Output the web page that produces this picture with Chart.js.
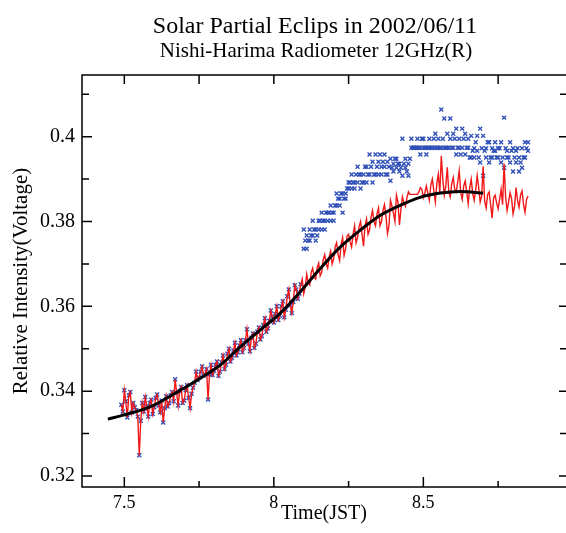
<!DOCTYPE html>
<html>
<head>
<meta charset="utf-8">
<script src="https://cdn.jsdelivr.net/npm/chart.js@4.4.1/dist/chart.umd.min.js"></script>
<style>
    body { margin: 0; background: #fff; }
    canvas { display: block; }
</style>
</head>
<body>
<canvas id="graficoEclipse" width="566" height="533"></canvas>
<script>
    const titulo = 'Solar Partial Eclips in 2002/06/11';
    const subtitulo = 'Nishi-Harima Radiometer 12GHz(R)';

    // red trace, samples on the 0.01 h grid
    const redTimes = [
        7.49, 7.50, 7.51, 7.52, 7.53, 7.54, 7.55, 7.56, 7.57, 7.58,
        7.59, 7.60, 7.61, 7.62, 7.63, 7.64, 7.65, 7.66, 7.67, 7.68,
        7.69, 7.70, 7.71, 7.72, 7.73, 7.74, 7.75, 7.76, 7.77, 7.78,
        7.79, 7.80, 7.81, 7.82, 7.83, 7.84, 7.85, 7.86, 7.87, 7.88,
        7.89, 7.90, 7.91, 7.92, 7.93, 7.94, 7.95, 7.96, 7.97, 7.98,
        7.99, 8.00, 8.01, 8.02, 8.03, 8.04, 8.05, 8.06, 8.07, 8.08,
        8.09, 8.10, 8.11, 8.12, 8.13, 8.14, 8.15, 8.16, 8.17, 8.18,
        8.19, 8.20, 8.21, 8.22, 8.23, 8.24, 8.25, 8.26, 8.27, 8.28,
        8.29, 8.30, 8.31, 8.32, 8.33, 8.34, 8.35, 8.36, 8.37, 8.38,
        8.39, 8.40, 8.41, 8.42, 8.43, 8.44, 8.45, 8.46, 8.47, 8.48,
        8.49, 8.50, 8.51, 8.52, 8.53, 8.54, 8.55, 8.56, 8.57, 8.58,
        8.59, 8.60, 8.61, 8.62, 8.63, 8.64, 8.65, 8.66, 8.67, 8.68,
        8.69, 8.70, 8.71, 8.72, 8.73, 8.74, 8.75, 8.76, 8.77, 8.78,
        8.79, 8.80, 8.81, 8.82, 8.83, 8.84, 8.85
    ];
    const redVals = [
        0.3368, 0.3402, 0.3338, 0.3398, 0.3372, 0.3355, 0.3249, 0.3372, 0.3386, 0.3340,
        0.3380, 0.3362, 0.3392, 0.3350, 0.3326, 0.3388, 0.3372, 0.3398, 0.3428, 0.3366,
        0.3410, 0.3378, 0.3414, 0.3360, 0.3408, 0.3446, 0.3432, 0.3458, 0.3440, 0.3380,
        0.3462, 0.3448, 0.3470, 0.3446, 0.3484, 0.3462, 0.3500, 0.3478, 0.3514, 0.3492,
        0.3520, 0.3502, 0.3546, 0.3494, 0.3536, 0.3512, 0.3550, 0.3530, 0.3572, 0.3548,
        0.3590, 0.3562, 0.3600, 0.3578, 0.3612, 0.3592, 0.3640, 0.3584, 0.3650, 0.3618,
        0.3652, 0.3630, 0.3676, 0.3650, 0.3690, 0.3664, 0.3702, 0.3680, 0.3722, 0.3690,
        0.3730, 0.3712, 0.3750, 0.3708, 0.3762, 0.3736, 0.3770, 0.3740, 0.3790, 0.3762,
        0.3800, 0.3742, 0.3806, 0.3780, 0.3826, 0.3790, 0.3832, 0.3800, 0.3840, 0.3772,
        0.3850, 0.3820, 0.3862, 0.3792, 0.3858, 0.3836, 0.3870, 0.3864, 0.3864, 0.3864,
        0.3880, 0.3856, 0.3884, 0.3850, 0.3900, 0.3846, 0.3912, 0.3955, 0.3862, 0.3928,
        0.3858, 0.3904, 0.3870, 0.3920, 0.3852, 0.3896, 0.3842, 0.3900, 0.3850, 0.3908,
        0.3846, 0.3930, 0.3832, 0.3870, 0.3808, 0.3862, 0.3830, 0.3876, 0.3937, 0.3826,
        0.3868, 0.3818, 0.3880, 0.3834, 0.3872, 0.3822, 0.3860
    ];
    // red trace, samples half way between
    const redTimesB = [
        7.495, 7.505, 7.515, 7.525, 7.535, 7.545, 7.555, 7.565, 7.575, 7.585,
        7.595, 7.605, 7.615, 7.625, 7.635, 7.645, 7.655, 7.665, 7.675, 7.685,
        7.695, 7.705, 7.715, 7.725, 7.735, 7.745, 7.755, 7.765, 7.775, 7.785,
        7.795, 7.805, 7.815, 7.825, 7.835, 7.845, 7.855, 7.865, 7.875, 7.885,
        7.895, 7.905, 7.915, 7.925, 7.935, 7.945, 7.955, 7.965, 7.975, 7.985,
        7.995, 8.005, 8.015, 8.025, 8.035, 8.045, 8.055, 8.065, 8.075, 8.085,
        8.095, 8.105, 8.115, 8.125, 8.135, 8.145, 8.155, 8.165, 8.175, 8.185,
        8.195, 8.205, 8.215, 8.225, 8.235, 8.245, 8.255, 8.265, 8.275, 8.285,
        8.295, 8.305, 8.315, 8.325, 8.335, 8.345, 8.355, 8.365, 8.375, 8.385,
        8.395, 8.405, 8.415, 8.425, 8.435, 8.445, 8.455, 8.465, 8.475, 8.485,
        8.495, 8.505, 8.515, 8.525, 8.535, 8.545, 8.555, 8.565, 8.575, 8.585,
        8.595, 8.605, 8.615, 8.625, 8.635, 8.645, 8.655, 8.665, 8.675, 8.685,
        8.695, 8.705, 8.715, 8.725, 8.735, 8.745, 8.755, 8.765, 8.775, 8.785,
        8.795, 8.805, 8.815, 8.825, 8.835, 8.845
    ];
    const redValsB = [
        0.3352, 0.3376, 0.3390, 0.3350, 0.3362, 0.3340, 0.3330, 0.3352, 0.3364, 0.3372,
        0.3346, 0.3384, 0.3366, 0.3378, 0.3360, 0.3364, 0.3390, 0.3376, 0.3396, 0.3400,
        0.3372, 0.3402, 0.3384, 0.3394, 0.3420, 0.3426, 0.3446, 0.3436, 0.3452, 0.3440,
        0.3438, 0.3462, 0.3436, 0.3468, 0.3452, 0.3488, 0.3470, 0.3496, 0.3484, 0.3508,
        0.3492, 0.3520, 0.3512, 0.3526, 0.3502, 0.3540, 0.3522, 0.3556, 0.3540, 0.3566,
        0.3576, 0.3582, 0.3568, 0.3600, 0.3574, 0.3624, 0.3602, 0.3610, 0.3640, 0.3630,
        0.3664, 0.3646, 0.3656, 0.3680, 0.3668, 0.3692, 0.3672, 0.3710, 0.3700, 0.3716,
        0.3700, 0.3740, 0.3722, 0.3746, 0.3720, 0.3766, 0.3752, 0.3770, 0.3750, 0.3788,
        0.3770, 0.3790, 0.3770, 0.3810, 0.3800, 0.3818, 0.3790, 0.3826, 0.3812, 0.3790,
        0.3836, 0.3800, 0.3846, 0.3828, 0.3844, 0.3856, 0.3864, 0.3864, 0.3864, 0.3870,
        0.3876, 0.3868, 0.3866, 0.3886, 0.3872, 0.3890, 0.3868, 0.3900, 0.3884, 0.3870,
        0.3890, 0.3876, 0.3894, 0.3868, 0.3884, 0.3870, 0.3880, 0.3866, 0.3874, 0.3880,
        0.3860, 0.3848, 0.3864, 0.3840, 0.3856, 0.3844, 0.3852, 0.3840, 0.3858, 0.3846,
        0.3854, 0.3836, 0.3850, 0.3862, 0.3840, 0.3852
    ];
    // blue crosses coincide with the red trace up to 8.09 h
    const blueSameCount = 61;
    const blueSameCountB = 60;

    // blue crosses after 8.10 h (quantised readings)
    const blueTimes = [
        8.10, 8.11, 8.12, 8.13, 8.14, 8.15, 8.16, 8.17, 8.18, 8.19,
        8.20, 8.21, 8.22, 8.23, 8.24, 8.25, 8.26, 8.27, 8.28, 8.29,
        8.30, 8.31, 8.32, 8.33, 8.34, 8.35, 8.36, 8.37, 8.38, 8.39,
        8.40, 8.41, 8.42, 8.43, 8.44, 8.45, 8.46, 8.47, 8.48, 8.49,
        8.50, 8.51, 8.52, 8.53, 8.54, 8.55, 8.56, 8.57, 8.58, 8.59,
        8.60, 8.61, 8.62, 8.63, 8.64, 8.65, 8.66, 8.67, 8.68, 8.69,
        8.70, 8.71, 8.72, 8.73, 8.74, 8.75, 8.76, 8.77, 8.78, 8.79,
        8.80, 8.81, 8.82, 8.83, 8.84, 8.85
    ];
    const blueUpper = [
        0.3781, 0.3767, 0.3781, 0.3802, 0.3781, 0.3802, 0.3821, 0.3802, 0.3821, 0.3838,
        0.3821, 0.3866, 0.3854, 0.3866, 0.3866, 0.3892, 0.3911, 0.3892, 0.3929, 0.3911,
        0.3911, 0.3929, 0.3958, 0.3941, 0.3958, 0.3941, 0.3929, 0.3958, 0.3941, 0.3948,
        0.3936, 0.3948, 0.3936, 0.3995, 0.3948, 0.3936, 0.3995, 0.3974, 0.3995, 0.3974,
        0.3995, 0.3974, 0.3995, 0.3974, 0.4007, 0.3995, 0.4064, 0.4043, 0.4007, 0.4043,
        0.4007, 0.4019, 0.3995, 0.4019, 0.4007, 0.3995, 0.4002, 0.3973, 0.4002, 0.4019,
        0.4002, 0.3973, 0.3987, 0.3973, 0.3987, 0.3973, 0.3987, 0.4045, 0.3967, 0.3987,
        0.3973, 0.3967, 0.3951, 0.3973, 0.3987, 0.3987
    ];
    const blueLower = [
        0.3736, 0.3736, 0.3755, 0.3767, 0.3755, 0.3781, 0.3781, 0.3781, 0.3802, 0.3802,
        0.3802, 0.3838, 0.3838, 0.3821, 0.3854, 0.3878, 0.3878, 0.3878, 0.3892, 0.3878,
        0.3892, 0.3892, 0.3911, 0.3892, 0.3911, 0.3911, 0.3911, 0.3929, 0.3911, 0.3896,
        0.3918, 0.3927, 0.3918, 0.3908, 0.3927, 0.3908, 0.3974, 0.3974, 0.3974, 0.3958,
        0.3974, 0.3958, 0.3974, 0.3974, 0.3974, 0.3974, 0.3974, 0.3974, 0.3974, 0.3995,
        0.3974, 0.3958, 0.3974, 0.3974, 0.3958, 0.3974, 0.3951, 0.3951, 0.3967, 0.3939,
        0.3908, 0.3951, 0.3939, 0.3951, 0.3967, 0.3951, 0.3939, 0.3927, 0.3951, 0.3939,
        0.3918, 0.3939, 0.3918, 0.3927, 0.3951, 0.3967
    ];
    const blueTimesB = [
        8.105, 8.115, 8.125, 8.135, 8.145, 8.155, 8.165, 8.175, 8.185, 8.195,
        8.205, 8.215, 8.225, 8.235, 8.245, 8.255, 8.265, 8.275, 8.285, 8.295,
        8.305, 8.315, 8.325, 8.335, 8.345, 8.355, 8.365, 8.375, 8.385, 8.395,
        8.405, 8.415, 8.425, 8.435, 8.445, 8.455, 8.465, 8.475, 8.485, 8.495,
        8.505, 8.515, 8.525, 8.535, 8.545, 8.555, 8.565, 8.575, 8.585, 8.595,
        8.605, 8.615, 8.625, 8.635, 8.645, 8.655, 8.665, 8.675, 8.685, 8.695,
        8.705, 8.715, 8.725, 8.735, 8.745, 8.755, 8.765, 8.775, 8.785, 8.795,
        8.805, 8.815, 8.825, 8.835, 8.845
    ];
    const blueMid = [
        0.3755, 0.3755, 0.3767, 0.3781, 0.3767, 0.3802, 0.3802, 0.3821, 0.3821, 0.3821,
        0.3838, 0.3854, 0.3866, 0.3854, 0.3878, 0.3892, 0.3892, 0.3911, 0.3911, 0.3892,
        0.3929, 0.3911, 0.3929, 0.3911, 0.3929, 0.3958, 0.3941, 0.3911, 0.3929, 0.3927,
        0.3948, 0.3936, 0.3927, 0.3936, 0.3918, 0.3948, 0.3974, 0.3974, 0.3974, 0.3995,
        0.3974, 0.3974, 0.3974, 0.3995, 0.3974, 0.3974, 0.3995, 0.3974, 0.3974, 0.3974,
        0.3995, 0.3974, 0.3958, 0.3995, 0.3974, 0.3951, 0.3967, 0.3987, 0.3951, 0.3973,
        0.3967, 0.3987, 0.3951, 0.3967, 0.3951, 0.3973, 0.3951, 0.3973, 0.3951, 0.3967,
        0.3951, 0.3973, 0.3939, 0.3951, 0.3973
    ];

    // black fitted curve
    const fitTimes = [7.445, 7.50, 7.586, 7.67, 7.753, 7.82, 7.887, 7.954, 8.02, 8.088,
        8.155, 8.221, 8.288, 8.355, 8.422, 8.489, 8.556, 8.623, 8.70];
    const fitVals = [0.3334, 0.3344, 0.3363, 0.3395, 0.3430, 0.3461, 0.3504, 0.3544, 0.3583, 0.3634,
        0.3689, 0.3739, 0.3779, 0.3814, 0.3838, 0.3857, 0.3867, 0.3871, 0.3867];

    const xMajorTicks = [7.5, 8, 8.5];
    const xMinorTicks = [7.75, 8.25, 8.75];
    const yMajorTicks = [0.32, 0.34, 0.36, 0.38, 0.40];
    const yMinorTicks = [0.33, 0.35, 0.37, 0.39, 0.41];

    const pares = (xs, ys) => xs.map((t, i) => ({ x: t, y: ys[i] }));

    const redPoints = pares(redTimes, redVals)
        .concat(pares(redTimesB, redValsB))
        .sort((a, b) => a.x - b.x);

    const bluePoints = pares(redTimes.slice(0, blueSameCount), redVals.slice(0, blueSameCount))
        .concat(pares(redTimesB.slice(0, blueSameCountB), redValsB.slice(0, blueSameCountB)))
        .concat(pares(blueTimes, blueUpper))
        .concat(pares(blueTimes, blueLower))
        .concat(pares(blueTimesB, blueMid));

    const serif = '"Liberation Serif", "Times New Roman", serif';

    const moldura = {
        id: 'moldura',
        afterDraw(chart) {
            const { ctx, chartArea: a, scales: { x, y } } = chart;
            ctx.save();
            ctx.strokeStyle = '#000';
            ctx.lineWidth = 1.5;
            ctx.beginPath();
            ctx.moveTo(a.right, a.top);
            ctx.lineTo(a.left, a.top);
            ctx.lineTo(a.left, a.bottom);
            ctx.lineTo(a.right, a.bottom);
            yMajorTicks.forEach(v => {
                const p = y.getPixelForValue(v);
                ctx.moveTo(a.left, p); ctx.lineTo(a.left + 10, p);
                ctx.moveTo(a.right, p); ctx.lineTo(a.right - 7, p);
            });
            yMinorTicks.forEach(v => {
                const p = y.getPixelForValue(v);
                ctx.moveTo(a.left, p); ctx.lineTo(a.left + 7, p);
                ctx.moveTo(a.right, p); ctx.lineTo(a.right - 6, p);
            });
            xMajorTicks.forEach(v => {
                const p = x.getPixelForValue(v);
                ctx.moveTo(p, a.bottom); ctx.lineTo(p, a.bottom - 10);
                ctx.moveTo(p, a.top); ctx.lineTo(p, a.top + 9);
            });
            xMinorTicks.forEach(v => {
                const p = x.getPixelForValue(v);
                ctx.moveTo(p, a.bottom); ctx.lineTo(p, a.bottom - 6);
                ctx.moveTo(p, a.top); ctx.lineTo(p, a.top + 9);
            });
            ctx.stroke();

            ctx.fillStyle = '#000';
            ctx.textAlign = 'center';
            ctx.textBaseline = 'alphabetic';
            ctx.font = '24px ' + serif;
            ctx.fillText(titulo, 315, 33);
            ctx.font = '21px ' + serif;
            ctx.fillText(subtitulo, 316, 57);
            ctx.restore();
        }
    };

    const grafico = document.getElementById('graficoEclipse');

    new Chart(grafico, {
        type: 'scatter',
        data: {
            datasets: [{
                label: 'fit',
                data: pares(fitTimes, fitVals),
                showLine: true,
                borderColor: '#000',
                borderWidth: 3,
                pointRadius: 0,
                tension: 0.4,
                cubicInterpolationMode: 'monotone'
            },
            {
                label: 'red',
                data: redPoints,
                showLine: true,
                borderColor: '#f01818',
                borderWidth: 1.4,
                pointRadius: 0,
                tension: 0
            },
            {
                label: 'blue',
                data: bluePoints,
                showLine: false,
                pointStyle: 'crossRot',
                pointRadius: 2.8,
                pointBorderWidth: 1.4,
                borderColor: '#3050b8',
                backgroundColor: '#3050b8'
            }]
        },
        options: {
            responsive: false,
            animation: false,
            devicePixelRatio: 1,
            layout: {
                autoPadding: false,
                padding: { left: 0, right: 0, top: 75, bottom: 0 }
            },
            plugins: {
                legend: { display: false },
                tooltip: { enabled: false }
            },
            scales: {
                x: {
                    type: 'linear',
                    min: 7.3585,
                    max: 8.977,
                    afterBuildTicks: s => { s.ticks = xMajorTicks.map(v => ({ value: v })); },
                    afterFit: s => { s.height = 46; },
                    grid: { display: false, drawTicks: false },
                    border: { display: false },
                    ticks: {
                        padding: 5,
                        color: '#000',
                        font: { family: serif, size: 18 },
                        callback: v => String(v)
                    },
                    title: {
                        display: true,
                        text: 'Time(JST)',
                        color: '#000',
                        font: { family: serif, size: 20 },
                        padding: { top: 0, bottom: 7 }
                    }
                },
                y: {
                    min: 0.3174,
                    max: 0.41455,
                    afterBuildTicks: s => { s.ticks = yMajorTicks.map(v => ({ value: v })); },
                    afterFit: s => { s.width = 82; },
                    grid: { display: false, drawTicks: false },
                    border: { display: false },
                    ticks: {
                        padding: 7,
                        color: '#000',
                        font: { family: serif, size: 20 },
                        callback: v => String(+v.toFixed(2))
                    },
                    title: {
                        display: true,
                        text: 'Relative Intensity(Voltage)',
                        color: '#000',
                        font: { family: serif, size: 21 },
                        padding: { top: 9, bottom: 0 }
                    }
                }
            }
        },
        plugins: [moldura]
    });
</script>
</body>
</html>
